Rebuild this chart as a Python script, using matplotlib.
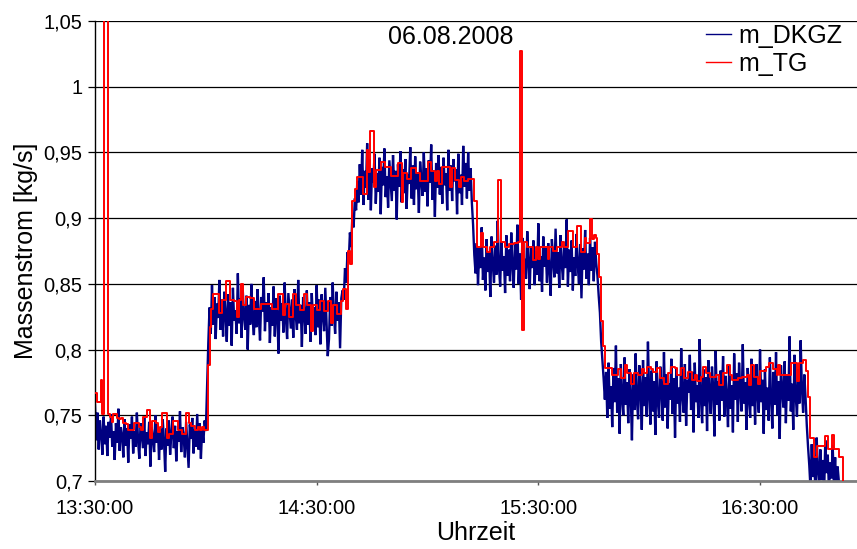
import numpy as np
import matplotlib
matplotlib.use("Agg")
import matplotlib.pyplot as plt
import matplotlib.dates as mdates
from matplotlib.ticker import FuncFormatter

plt.rcParams['font.family'] = ['Liberation Sans', 'DejaVu Sans']

# Measurement day and sampling
DATE_LABEL = "06.08.2008"
START = np.datetime64('2008-08-06T13:30:00')
X_END = np.datetime64('2008-08-06T16:56:15')
DKGZ_STEP_S = 20   # m_DKGZ logged every 20 s
TG_STEP_S = 30     # m_TG logged every 30 s

# m_DKGZ in g/s, split by operating phase
dkgz_phase1 = [
    758, 731, 752, 724, 746, 736, 720, 749, 728, 742,
    719, 745, 733, 751, 726, 738, 716, 744, 729, 755,
    723, 741, 735, 718, 747, 727, 740, 714, 743, 732,
    749, 721, 738, 726, 752, 730, 717, 744, 735, 725,
    748, 719, 737, 728, 745, 711, 741, 733, 722, 750,
    729, 743, 716, 739, 724, 747, 731, 707, 740, 727,
    746, 720, 736, 749, 725, 742, 715, 738, 730, 753,
    722, 741, 734, 718, 745, 728, 710, 743, 732, 748,
    721, 739, 726, 751, 724, 744, 717, 740, 729, 746,
    738, 772, 805,
]
dkgz_phase2 = [
    832, 812, 849, 819, 840, 808, 835,
    824, 853, 815, 838, 810, 844, 827, 806, 842, 818,
    836, 803, 847, 822, 830, 812, 858, 820, 839, 809,
    845, 826, 815, 841, 800, 834, 819, 850, 823, 811,
    837, 817, 846, 825, 807, 840, 829, 855, 814, 836,
    821, 843, 805, 832, 818, 848, 810, 839, 827, 797,
    841, 822, 835, 813, 851, 824, 808, 843, 830, 816,
    838, 809, 846, 826, 815, 853, 820, 834, 802, 840,
    828, 812, 845, 819, 836, 806, 843, 823, 832, 811,
    849, 817, 838, 804, 842, 826, 814, 847, 821, 795,
    808, 840, 818, 851, 827, 812, 844, 822, 836, 801, 839,
    845, 838, 862, 851, 874, 866, 889, 878, 902, 893, 915, 906, 928, 912,
]
dkgz_phase3 = [
    941, 918, 952, 910, 936,
    923, 957, 914, 945, 906, 938, 927, 949, 911, 934,
    920, 946, 903, 939, 925, 953, 916, 932, 908, 944,
    928, 913, 948, 921, 936, 899, 941, 924, 951, 912,
    937, 919, 945, 907, 933, 926, 954, 915, 940, 910,
    947, 922, 935, 904, 943, 929, 917, 950, 920, 938,
    909, 944, 927, 956, 914, 936, 901, 942, 923, 948,
    918, 939, 911, 946, 925, 934, 906, 952, 921, 940,
    913, 945, 928, 937, 903, 949, 919, 933, 910, 955,
    924, 942, 915, 950, 921, 938, 912,
    895, 872,
]
dkgz_phase4 = [
    858,
    881, 849, 877, 862, 893, 853, 870, 845, 884, 859,
    874, 840, 886, 865, 851, 879, 857, 898, 863, 848,
    882, 860, 871, 843, 887, 856, 876, 852, 889, 864,
    847, 880, 861, 895, 850, 873, 838, 885, 858, 869,
    854, 890, 866, 846, 878, 862, 883, 849, 875, 857,
    896, 852, 871, 844, 886, 863, 877, 851, 881, 860,
    841, 884, 868, 855, 892, 858, 874, 847, 887, 865,
    853, 879, 862, 899, 848, 876, 859, 883, 845, 870,
    856, 888, 864, 850, 880, 839, 877, 861, 891, 854,
    873, 849, 885, 860, 878, 852, 882, 866,
    856, 841, 828, 806, 792, 778, 762,
]
dkgz_phase5 = [
    783, 748, 790, 755, 772,
    741, 786, 760, 803, 752, 778, 736, 789, 763, 750,
    794, 758, 775, 744, 785, 766, 731, 781, 754, 797,
    762, 747, 788, 770, 739, 792, 757, 779, 749, 806,
    765, 743, 784, 753, 776, 735, 791, 761, 748, 787,
    769, 746, 798, 756, 781, 740, 774, 762, 793, 751,
    778, 733, 786, 759, 771, 745, 801, 764, 752, 789,
    742, 777, 767, 796, 754, 783, 737, 790, 760, 773,
    748, 808, 763, 744, 785, 757, 779, 738, 792, 766,
    751, 787, 770, 734, 799, 758, 776, 746, 784, 761,
    795, 749, 780, 765, 741, 788, 755, 773, 737, 797,
    762, 782, 745, 790, 768, 753, 804, 759, 775, 739,
    786, 764, 748, 793, 757, 779, 743, 789, 766, 752,
    800, 760, 777, 736, 785, 754, 771, 746, 794, 763,
    740, 783, 758, 798, 750, 776, 732, 788, 768, 756,
    791, 744, 780, 761, 810, 753, 774, 739, 796, 765,
    749, 785, 759, 807, 771, 752, 781, 763,
    742, 726,
]
dkgz_phase6 = [
    712, 694, 728, 703, 719, 690, 733, 708, 697, 724,
    701, 716, 688, 731, 706, 720, 693, 714, 702, 727,
    698, 718, 692, 711, 700,
]

# m_TG in g/s (held value, updated every 30 s)
tg_values = [
    767, 760, 760, 777, 751, 1120, 1120, 751, 749, 745,
    751, 751, 748, 747, 748, 744, 744, 743, 739, 739,
    739, 744, 744, 744, 741, 739, 749, 749, 754, 754,
    733, 746, 746, 744, 737, 741, 752, 752, 752, 733,
    736, 736, 746, 746, 746, 739, 739, 736, 736, 752,
    752, 744, 742, 742, 739, 739, 741, 739, 741, 739,
    739, 788, 817, 831, 842, 842, 842, 828, 828, 838,
    838, 852, 852, 838, 838, 837, 837, 825, 838, 850,
    834, 834, 840, 840, 839, 839, 831, 831, 831, 831,
    835, 835, 835, 835, 835, 835, 831, 831, 831, 842,
    842, 842, 826, 835, 835, 825, 825, 842, 842, 834,
    834, 830, 830, 842, 842, 834, 834, 814, 834, 834,
    830, 830, 837, 837, 829, 829, 837, 837, 820, 834,
    834, 827, 827, 837, 846, 846, 831, 875, 865, 913,
    913, 922, 931, 931, 931, 918, 918, 952, 935, 966,
    966, 924, 937, 937, 937, 943, 943, 939, 939, 939,
    932, 932, 932, 932, 942, 942, 912, 934, 934, 930,
    930, 938, 938, 938, 934, 934, 928, 928, 928, 928,
    943, 943, 936, 936, 928, 936, 926, 926, 939, 939,
    939, 939, 924, 938, 938, 929, 929, 924, 931, 931,
    928, 928, 930, 930, 930, 913, 913, 878, 878, 889,
    878, 878, 874, 874, 878, 878, 882, 882, 929, 929,
    882, 882, 878, 878, 880, 880, 880, 881, 881, 882,
    1027, 815, 882, 882, 878, 878, 878, 868, 868, 878,
    869, 878, 878, 878, 878, 869, 878, 878, 875, 875,
    878, 878, 878, 882, 878, 878, 890, 890, 890, 878,
    878, 894, 894, 874, 874, 885, 881, 881, 899, 884,
    887, 885, 873, 855, 822, 803, 786, 786, 786, 786,
    781, 781, 781, 785, 785, 778, 778, 788, 782, 782,
    774, 774, 782, 782, 781, 781, 785, 782, 782, 787,
    787, 785, 783, 783, 786, 786, 778, 778, 774, 774,
    782, 782, 787, 787, 786, 781, 781, 786, 786, 778,
    778, 783, 783, 777, 777, 781, 776, 776, 779, 787,
    787, 782, 782, 779, 779, 779, 781, 781, 773, 773,
    782, 782, 788, 788, 781, 777, 777, 777, 778, 778,
    779, 779, 779, 781, 773, 788, 788, 779, 779, 774,
    784, 784, 784, 787, 787, 790, 790, 785, 785, 781,
    788, 781, 781, 781, 781, 781, 781, 790, 790, 790,
    776, 790, 790, 792, 792, 784, 764, 733, 733, 718,
    718, 727, 727, 727, 727, 734, 734, 724, 724, 735,
    724, 724, 724, 718, 718, 690,
]

y_ticks = [0.7, 0.75, 0.8, 0.85, 0.9, 0.95, 1.0, 1.05]
x_tick_labels_at = ['13:30', '14:30', '15:30', '16:30']

# Convert g/s to kg/s and build the time bases
m_dkgz = np.array(dkgz_phase1 + dkgz_phase2 + dkgz_phase3 + dkgz_phase4
                  + dkgz_phase5 + dkgz_phase6) / 1000.0
m_tg = np.array(tg_values) / 1000.0
t_dkgz = START + np.arange(len(m_dkgz)) * np.timedelta64(DKGZ_STEP_S, 's')
t_tg = START + np.arange(len(m_tg)) * np.timedelta64(TG_STEP_S, 's')

fig = plt.figure(figsize=(8.57, 5.49), dpi=100)
ax = fig.add_axes([95 / 857, 1 - 481 / 549, 762 / 857, 460 / 549])

ax.plot(t_dkgz, m_dkgz, color='#000080', lw=1.7, label='m_DKGZ', zorder=2,
        solid_joinstyle='miter')
ax.plot(t_tg, m_tg, color='#ff0000', lw=1.4, drawstyle='steps-post',
        label='m_TG', zorder=3)

ax.set_ylim(0.7, 1.05)
ax.set_xlim(START, X_END)
ax.set_yticks(y_ticks)
ax.grid(axis='y', color='black', lw=0.9, zorder=1)
ax.set_axisbelow(True)


def de_comma(v, _pos):
    s = f"{v:.2f}".rstrip('0').rstrip('.')
    return s.replace('.', ',')


ax.yaxis.set_major_formatter(FuncFormatter(de_comma))
ax.set_xticks([np.datetime64(f'2008-08-06T{hm}:00') for hm in x_tick_labels_at])
ax.xaxis.set_major_formatter(mdates.DateFormatter('%H:%M:%S'))

for side in ('top', 'right'):
    ax.spines[side].set_visible(False)
ax.spines['left'].set_color('black')
ax.spines['left'].set_linewidth(1.0)
ax.spines['bottom'].set_color('#7f7f7f')
ax.spines['bottom'].set_linewidth(2.0)

ax.tick_params(axis='y', direction='out', length=5, width=0.9, color='black',
               labelsize=14.5, pad=4)
ax.tick_params(axis='x', direction='out', length=3, width=1, color='#555555',
               labelsize=14.5, pad=10)

ax.set_ylabel('Massenstrom [kg/s]', fontsize=18, labelpad=4)
ax.set_xlabel('Uhrzeit', fontsize=18, labelpad=2)

fig.text(451 / 857, 1 - 37 / 549, DATE_LABEL, fontsize=18,
         ha='center', va='center')

leg = ax.legend(loc='upper left', bbox_to_anchor=(706 / 857, 1 - 24 / 549),
                bbox_transform=fig.transFigure, frameon=False, fontsize=18,
                handlelength=1.0, handletextpad=0.3, borderpad=0,
                borderaxespad=0, labelspacing=0.15)
for handle in leg.get_lines():
    handle.set_linewidth(1.0)

fig.savefig('out.png', dpi=100)
